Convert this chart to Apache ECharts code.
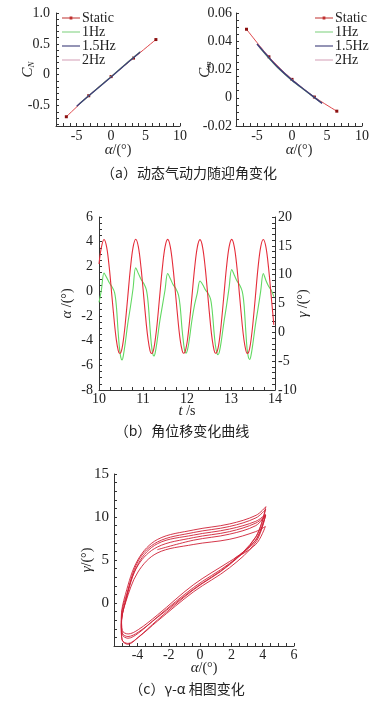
<!DOCTYPE html>
<html><head><meta charset="utf-8">
<script src="https://cdn.jsdelivr.net/npm/echarts@6/dist/echarts.min.js"></script>
<style>html,body{margin:0;padding:0;background:#fff}#c{width:372px;height:705px}</style>
</head><body><div id="c"></div>
<script>
// ---------- Panel (a) data ----------
const staticAlphaCN = [-6.5, -3.25, 0, 3.25, 6.5];
const staticCN      = [-0.68, -0.34, -0.03, 0.27, 0.57];
const staticAlphaCm = [-6.5, -3.3, 0, 3.2, 6.4];
const staticCm      = [0.0485, 0.029, 0.013, 0.0005, -0.0095];

const dynAlpha1Hz   = [-4.6, -2.5, 0, 2.5, 4.2];
const dynCN1Hz      = [-0.47, -0.27, -0.03, 0.21, 0.37];
const dynAlpha15Hz  = [-5.0, -2.5, 0, 2.5, 4.2];
const dynCN15Hz     = [-0.51, -0.27, -0.035, 0.205, 0.365];
const dynAlpha2Hz   = [-4.8, -2.5, 0, 2.5, 4.3];
const dynCN2Hz      = [-0.49, -0.265, -0.03, 0.21, 0.38];

const dynCmAlpha1Hz  = [-4.6, -3.5, -2, 0, 2, 4.2];
const dynCm1Hz       = [0.0355, 0.029, 0.021, 0.0122, 0.0046, -0.0035];
const dynCmAlpha15Hz = [-5.0, -3.5, -2, 0, 2, 4.3];
const dynCm15Hz      = [0.038, 0.0295, 0.0215, 0.0125, 0.0048, -0.004];
const dynCmAlpha2Hz  = [-4.8, -3.5, -2, 0, 2, 4.3];
const dynCm2Hz       = [0.0372, 0.0298, 0.0218, 0.0128, 0.005, -0.0038];

// ---------- Panel (b)/(c) data : time history ----------
const timeSec = [10.000, 10.054,
  10.114, 10.174, 10.234, 10.294, 10.354, 10.394, 10.434, 10.464, 10.494, 10.524, 10.554, 10.594, 10.654, 10.714, 10.774,
  10.834, 10.895, 10.955, 11.016, 11.076, 11.117, 11.157, 11.187, 11.218, 11.248, 11.278, 11.319, 11.379, 11.440, 11.500,
  11.561, 11.622, 11.683, 11.745, 11.806, 11.846, 11.887, 11.918, 11.948, 11.979, 12.010, 12.050, 12.112, 12.173, 12.234,
  12.295, 12.355, 12.415, 12.475, 12.535, 12.575, 12.615, 12.645, 12.676, 12.706, 12.736, 12.776, 12.836, 12.896, 12.956,
  13.016, 13.076, 13.136, 13.196, 13.255, 13.295, 13.335, 13.365, 13.395, 13.425, 13.455, 13.495, 13.555, 13.614, 13.674,
  13.734, 13.794, 13.854, 13.914, 13.974];
const alphaDeg = [2.20, 3.54,
  4.18, 3.56, 1.88, -0.42, -2.72, -3.94, -4.76, -5.03, -4.98, -4.62, -3.96, -2.74, -0.45, 1.85, 3.54,
  4.20, 3.58, 1.90, -0.40, -2.71, -3.95, -4.77, -5.04, -4.99, -4.61, -3.94, -2.72, -0.42, 1.88, 3.56,
  4.19, 3.57, 1.88, -0.43, -2.74, -3.96, -4.76, -5.02, -4.97, -4.60, -3.95, -2.73, -0.44, 1.86, 3.55,
  4.17, 3.55, 1.86, -0.44, -2.75, -3.97, -4.77, -5.03, -4.97, -4.61, -3.96, -2.74, -0.43, 1.87, 3.56,
  4.19, 3.57, 1.89, -0.41, -2.72, -3.95, -4.76, -5.04, -4.98, -4.62, -3.95, -2.72, -0.42, 1.88, 3.57,
  4.18, 3.56, 1.87, -0.43, -2.73];
const gammaDeg = [5.2, 7.3,
  10.3, 9.5, 8.6, 7.9, 6.9, 4.6, 0.2, -2.6, -4.3, -4.8, -4.0, -2.0, 1.5, 4.4, 7.6,
  11.2, 10.2, 9.2, 8.5, 7.4, 5.1, 1.0, -1.8, -3.6, -4.1, -3.5, -1.6, 1.8, 4.6, 7.3,
  10.2, 9.3, 8.3, 7.6, 6.5, 4.4, 0.6, -1.6, -3.2, -3.6, -3.1, -1.4, 2.1, 4.8, 6.8,
  8.9, 8.3, 7.4, 6.8, 5.8, 3.6, 0.0, -2.2, -3.5, -3.9, -3.4, -1.7, 1.6, 4.5, 7.7,
  10.9, 9.9, 8.9, 8.2, 7.1, 4.9, 0.3, -2.8, -4.3, -4.7, -4.0, -2.1, 1.3, 4.1, 7.1,
  10.2, 9.0, 8.0, 7.3, 6.2];

// ---------- tick labels ----------
const aXLabels   = [-5, 0, 5, 10];
const aCNLabels  = [-0.5, 0, 0.5, 1.0];
const aCmLabels  = [-0.02, 0, 0.02, 0.04, 0.06];
const bTLabels   = [10, 11, 12, 13, 14];
const bALabels   = [-8, -6, -4, -2, 0, 2, 4, 6];
const bGLabels   = [-10, -5, 0, 5, 10, 15, 20];
const cXLabels   = [-4, -2, 0, 2, 4, 6];
const cYLabels   = [0, 5, 10, 15];

const captions = ['（a）动态气动力随迎角变化', '（b）角位移变化曲线', '（c）γ-α 相图变化'];
const legendNames = ['Static', '1Hz', '1.5Hz', '2Hz'];

// ---------- helpers ----------
const SERIF = '"Liberation Serif","DejaVu Serif",serif';
const CJK = '"Noto Sans CJK SC",sans-serif';
function steps(min, max, step) { const a = []; for (let v = min; v <= max + 1e-9; v += step) a.push(+v.toFixed(5)); return a; }
function zip(xs, ys) { return xs.map((x, i) => [x, ys[i]]); }
const RICH = {
  i: { fontFamily: SERIF, fontStyle: 'italic', fontSize: 15, color: '#222' },
  r: { fontFamily: SERIF, fontSize: 14, color: '#222' },
  s: { fontFamily: SERIF, fontStyle: 'italic', fontSize: 9, color: '#222', padding: [7, 0, 0, 0] }
};
function axis(o) {
  return {
    type: 'value', gridIndex: o.g, min: o.min, max: o.max, position: o.pos,
    name: o.name, nameLocation: 'middle', nameGap: o.gap, nameMoveOverlap: false,
    nameTextStyle: { fontFamily: SERIF, fontSize: 14, color: '#222', rich: RICH },
    axisLine: { show: true, onZero: false, lineStyle: { color: '#333', width: 1 } },
    axisTick: { show: true, inside: true, length: 3, customValues: o.ticks, lineStyle: { color: '#333', width: 1 } },
    axisLabel: { show: true, customValues: o.labels, formatter: o.fmt, margin: o.margin,
      fontFamily: SERIF, fontSize: o.fs || 14, color: '#222' },
    splitLine: { show: false }
  };
}

const C_STATIC = '#e0464a', C_MARK = '#8b1010', C_1 = '#86d486', C_15 = '#3c3c78', C_2 = '#d8a6bc';
const LINE_ICON = 'path://M0,0 L18,0 L18,1.1 L0,1.1 Z';
const STATIC_ICON = 'path://M0,1.1 L18,1.1 L18,2.1 L0,2.1 Z M7.6,0 L10.4,0 L10.4,3.2 L7.6,3.2 Z';

function dyn(name, x, y, color, xi, w) {
  return { name, type: 'line', xAxisIndex: xi, yAxisIndex: xi, data: zip(x, y), showSymbol: false, symbol: 'none',
    smooth: 0.3, lineStyle: { color, width: w || 1.1 }, itemStyle: { color }, z: 3 };
}
function stat(x, y, xi) {
  return { name: 'Static', type: 'line', xAxisIndex: xi, yAxisIndex: xi, data: zip(x, y), symbol: 'rect', symbolSize: 3,
    smooth: 0.3, lineStyle: { color: C_STATIC, width: 1 }, itemStyle: { color: C_MARK }, z: 2 };
}
function legendAt(left) {
  return { left, top: 6, orient: 'vertical', itemWidth: 18, itemHeight: 8, itemGap: 0,
    data: [ { name: 'Static', icon: STATIC_ICON, itemStyle: { color: '#c0302f' } },
            { name: '1Hz', icon: LINE_ICON }, { name: '1.5Hz', icon: LINE_ICON }, { name: '2Hz', icon: LINE_ICON } ],
    textStyle: { fontFamily: SERIF, fontSize: 14, color: '#222', lineHeight: 14, padding: [0, 0, 0, -3] } };
}

const option = {
  animation: false,
  backgroundColor: '#fff',
  grid: [
    { left: 56, top: 13, width: 124, height: 113 },
    { left: 236, top: 13, width: 126, height: 113 },
    { left: 99, top: 217, width: 176, height: 173 },
    { left: 114, top: 474, width: 180, height: 172 }
  ],
  xAxis: [
    axis({ g: 0, min: -8, max: 10, labels: aXLabels, ticks: steps(-8, 10, 1), margin: 3,
      name: '{i|α}{r|/(°)}', gap: 17 }),
    axis({ g: 1, min: -8, max: 10, labels: aXLabels, ticks: steps(-8, 10, 1), margin: 3,
      name: '{i|α}{r|/(°)}', gap: 17 }),
    axis({ g: 2, min: 10, max: 14, labels: bTLabels, ticks: steps(10, 14, 0.25), margin: 2,
      name: '{i|t}{r| /s}', gap: 14 }),
    axis({ g: 3, min: -5.5, max: 6, labels: cXLabels, ticks: steps(-5.5, 6, 0.5), margin: 2,
      name: '{i|α}{r|/(°)}', gap: 15 })
  ],
  yAxis: [
    axis({ g: 0, min: -0.83, max: 1.0, labels: aCNLabels, ticks: steps(-0.8, 1.0, 0.1), margin: 6,
      fmt: v => (v === 1 ? '1.0' : String(v)), name: '{i|C}{s|N}', gap: 20 }),
    axis({ g: 1, min: -0.02, max: 0.06, labels: aCmLabels, ticks: steps(-0.02, 0.06, 0.005), margin: 4,
      fmt: v => (Math.abs(v) < 1e-9 ? '0' : v.toFixed(2)), name: '{i|C}{s|m}', gap: 23 }),
    axis({ g: 2, min: -8, max: 6, labels: bALabels, ticks: steps(-8, 6, 0.5), margin: 6,
      name: '{i|α}{r| /(°)}', gap: 24 }),
    axis({ g: 2, min: -10, max: 20, pos: 'right', labels: bGLabels, ticks: steps(-10, 20, 1), margin: 3,
      name: '{i|γ}{r| /(°)}', gap: 21 }),
    axis({ g: 3, min: -5, max: 15, labels: cYLabels, ticks: steps(-5, 15, 1), margin: 5, fs: 15,
      name: '{i|γ}{r|/(°)}', gap: 19 })
  ],
  legend: [ legendAt(57), legendAt(310) ],
  series: [
    stat(staticAlphaCN, staticCN, 0),
    dyn('2Hz', dynAlpha2Hz, dynCN2Hz, C_2, 0),
    dyn('1Hz', dynAlpha1Hz, dynCN1Hz, C_1, 0),
    dyn('1.5Hz', dynAlpha15Hz, dynCN15Hz, C_15, 0, 1.3),
    stat(staticAlphaCm, staticCm, 1),
    dyn('2Hz', dynCmAlpha2Hz, dynCm2Hz, C_2, 1),
    dyn('1Hz', dynCmAlpha1Hz, dynCm1Hz, C_1, 1),
    dyn('1.5Hz', dynCmAlpha15Hz, dynCm15Hz, C_15, 1, 1.5),
    { type: 'line', xAxisIndex: 2, yAxisIndex: 3, data: zip(timeSec, gammaDeg), showSymbol: false, symbol: 'none',
      smooth: 0.35, lineStyle: { color: '#62d862', width: 1.1 } },
    { type: 'line', xAxisIndex: 2, yAxisIndex: 2, data: zip(timeSec, alphaDeg), showSymbol: false, symbol: 'none',
      smooth: 0.35, lineStyle: { color: '#e52d3a', width: 1.1 } },
    { type: 'line', xAxisIndex: 3, yAxisIndex: 4, data: zip(alphaDeg, gammaDeg), showSymbol: false, symbol: 'none',
      smooth: 0.35, lineStyle: { color: '#cf2036', width: 0.9 } }
  ],
  graphic: [
    { type: 'text', x: 189, y: 173, style: { text: captions[0], font: '14px ' + CJK, fill: '#222', align: 'center', verticalAlign: 'middle' } },
    { type: 'text', x: 182, y: 431, style: { text: captions[1], font: '14px ' + CJK, fill: '#222', align: 'center', verticalAlign: 'middle' } },
    { type: 'text', x: 187, y: 689, style: { text: captions[2], font: '14px ' + CJK, fill: '#222', align: 'center', verticalAlign: 'middle' } }
  ]
};
const chart = echarts.init(document.getElementById('c'), null, { renderer: 'canvas' });
chart.setOption(option);
</script></body></html>
